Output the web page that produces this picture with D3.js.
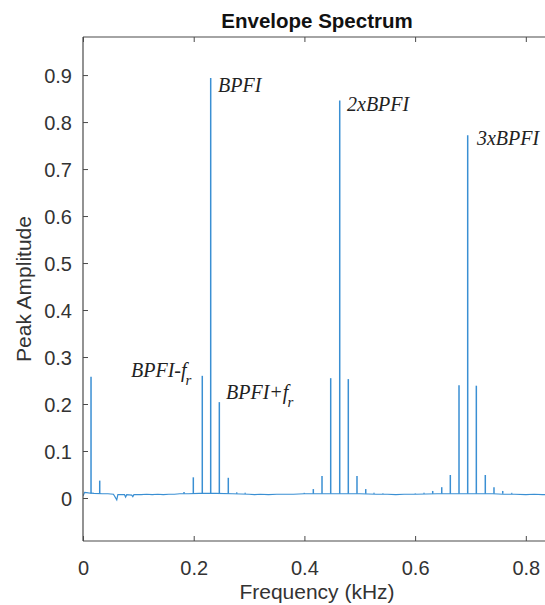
<!DOCTYPE html>
<html>
<head>
<meta charset="utf-8">
<script src="https://cdn.jsdelivr.net/npm/d3@7"></script>
<style>
  html, body { margin: 0; padding: 0; background: #fff; }
  svg { display: block; }
</style>
</head>
<body>
<svg id="chart" width="545" height="605"></svg>
<script>
// ---- Data (kHz, peak amplitude) ----
const chartTitle = "Envelope Spectrum";
const xLabel = "Frequency (kHz)";
const yLabel = "Peak Amplitude";

const xTicks = [0, 0.2, 0.4, 0.6, 0.8];
const xTickLabels = ["0", "0.2", "0.4", "0.6", "0.8"];
const yTicks = [0, 0.1, 0.2, 0.3, 0.4, 0.5, 0.6, 0.7, 0.8, 0.9];
const yTickLabels = ["0", "0.1", "0.2", "0.3", "0.4", "0.5", "0.6", "0.7", "0.8", "0.9"];

// noise floor of the spectrum
const baseFreq = [0.000, 0.003, 0.010, 0.020, 0.035, 0.045, 0.055, 0.061, 0.063, 0.075,
                  0.077, 0.079, 0.088, 0.090, 0.092, 0.105, 0.115, 0.125, 0.135, 0.145,
                  0.155, 0.165, 0.175, 0.190, 0.210, 0.240, 0.270, 0.300, 0.310, 0.320,
                  0.335, 0.350, 0.365, 0.380, 0.400, 0.430, 0.470, 0.500, 0.530, 0.550,
                  0.565, 0.580, 0.600, 0.640, 0.690, 0.740, 0.760, 0.780, 0.800, 0.815,
                  0.830, 0.845];
const baseAmp  = [0.004, 0.012, 0.011, 0.010, 0.009, 0.009, 0.008, -0.004, 0.007, 0.007,
                  0.002, 0.007, 0.006, 0.003, 0.007, 0.007, 0.008, 0.007, 0.008, 0.007,
                  0.008, 0.008, 0.009, 0.009, 0.010, 0.010, 0.009, 0.008, 0.007, 0.008,
                  0.007, 0.008, 0.008, 0.008, 0.009, 0.009, 0.009, 0.009, 0.008, 0.008,
                  0.007, 0.008, 0.008, 0.009, 0.009, 0.009, 0.008, 0.008, 0.007, 0.008,
                  0.007, 0.008];

// spectral peaks
const peakFreq = [0.0145, 0.0302, 0.1825, 0.1993, 0.2155, 0.2307, 0.2463, 0.2625, 0.2777, 0.2930,
                  0.3998, 0.4161, 0.4318, 0.4475, 0.4638, 0.4793, 0.4950, 0.5108, 0.5257, 0.5418,
                  0.6004, 0.6161, 0.6318, 0.6481, 0.6636, 0.6793, 0.6950, 0.7106, 0.7268, 0.7425,
                  0.7583, 0.7745];
const peakAmp  = [0.258, 0.037, 0.013, 0.044, 0.260, 0.894, 0.204, 0.043, 0.012, 0.011,
                  0.011, 0.019, 0.047, 0.255, 0.846, 0.253, 0.047, 0.019, 0.011, 0.010,
                  0.010, 0.011, 0.015, 0.023, 0.049, 0.240, 0.772, 0.239, 0.049, 0.023,
                  0.015, 0.011];
const noiseFloor = 0.009;

// annotations (text anchor in data coordinates)
const annoMain = ["BPFI", "2xBPFI", "3xBPFI", "BPFI-f", "BPFI+f"];
const annoSub  = ["", "", "", "r", "r"];
const annoX    = [0.2439, 0.4770, 0.7118, 0.0867, 0.2584];
const annoY    = [0.8638, 0.8234, 0.7510, 0.2574, 0.2106];

// ---- Layout ----
const svg = d3.select("#chart");
const mLeft = 83, mRight = 551, mTop = 37, mBottom = 541;
const x = d3.scaleLinear().domain([0, 0.8455]).range([mLeft, mRight]);
const y = d3.scaleLinear().domain([-0.0915, 0.981]).range([mBottom, mTop]);

const axisColor = "#4a4a4a";
const textColor = "#333333";
const lineColor = "#3a8fd3";
const sans = "'Liberation Sans', Arial, Helvetica, sans-serif";
const serif = "'Liberation Serif', 'Times New Roman', serif";

svg.append("rect").attr("width", 545).attr("height", 605).attr("fill", "#fff");

svg.append("defs").append("clipPath").attr("id", "clip")
  .append("rect").attr("x", mLeft).attr("y", mTop).attr("width", mRight - mLeft).attr("height", mBottom - mTop);

const plot = svg.append("g").attr("clip-path", "url(#clip)");

// baseline noise
const basePts = baseFreq.map((f, i) => [f, baseAmp[i]]);
plot.append("path")
  .datum(basePts)
  .attr("fill", "none")
  .attr("stroke", lineColor)
  .attr("stroke-width", 1.2)
  .attr("d", d3.line().x(d => x(d[0])).y(d => y(d[1])));

// peaks
plot.selectAll("line.peak")
  .data(peakFreq.map((f, i) => ({ f, a: peakAmp[i] })))
  .join("line")
  .attr("class", "peak")
  .attr("x1", d => x(d.f)).attr("x2", d => x(d.f))
  .attr("y1", y(noiseFloor)).attr("y2", d => y(d.a))
  .attr("stroke", lineColor)
  .attr("stroke-width", 1.5);

// ---- Axes (MATLAB style box with inward ticks) ----
const xAxisB = d3.axisBottom(x).tickValues(xTicks).tickSize(-5).tickPadding(12)
  .tickFormat((d, i) => xTickLabels[i]);
const xAxisT = d3.axisTop(x).tickValues(xTicks).tickSize(-5).tickFormat("");
const yAxisL = d3.axisLeft(y).tickValues(yTicks).tickSize(-5).tickPadding(11)
  .tickFormat((d, i) => yTickLabels[i]);

function styleAxis(g) {
  g.select(".domain").attr("stroke", axisColor).attr("stroke-width", 1.2);
  g.selectAll(".tick line").attr("stroke", axisColor);
  g.selectAll(".tick text").attr("fill", textColor)
    .style("font-family", sans).style("font-size", "20px");
}

svg.append("g").attr("transform", `translate(0,${mBottom})`).call(xAxisB).call(styleAxis)
  .call(g => g.select(".domain").attr("d", `M${mLeft},0H${mRight}`))
  .call(g => g.selectAll(".tick text").attr("dy", null).attr("y", 34));
svg.append("g").attr("transform", `translate(0,${mTop})`).call(xAxisT).call(styleAxis)
  .call(g => g.select(".domain").attr("d", `M${mLeft},0H${mRight}`));
svg.append("g").attr("transform", `translate(${mLeft},0)`).call(yAxisL).call(styleAxis)
  .call(g => g.select(".domain").attr("d", `M0,${mTop}V${mBottom}`))
  .call(g => g.selectAll(".tick text").attr("dy", "0.35em"));

// ---- Titles ----
svg.append("text")
  .attr("x", (mLeft + mRight) / 2).attr("y", 28)
  .attr("text-anchor", "middle")
  .attr("fill", "#111")
  .style("font-family", sans).style("font-size", "20.5px").style("font-weight", "bold")
  .text(chartTitle);

svg.append("text")
  .attr("x", (mLeft + mRight) / 2).attr("y", 599)
  .attr("text-anchor", "middle")
  .attr("fill", textColor)
  .style("font-family", sans).style("font-size", "21px")
  .text(xLabel);

svg.append("text")
  .attr("transform", `translate(31,289) rotate(-90)`)
  .attr("text-anchor", "middle")
  .attr("fill", textColor)
  .style("font-family", sans).style("font-size", "21px")
  .text(yLabel);

// ---- Annotations ----
annoMain.forEach((t, i) => {
  const txt = svg.append("text")
    .attr("x", x(annoX[i])).attr("y", y(annoY[i]))
    .attr("fill", "#222")
    .style("font-family", serif).style("font-style", "italic").style("font-size", "20px");
  txt.append("tspan").text(t);
  if (annoSub[i]) {
    txt.append("tspan").attr("dx", -1).attr("dy", 8).style("font-size", "15px").text(annoSub[i]);
  }
});
</script>
</body>
</html>
